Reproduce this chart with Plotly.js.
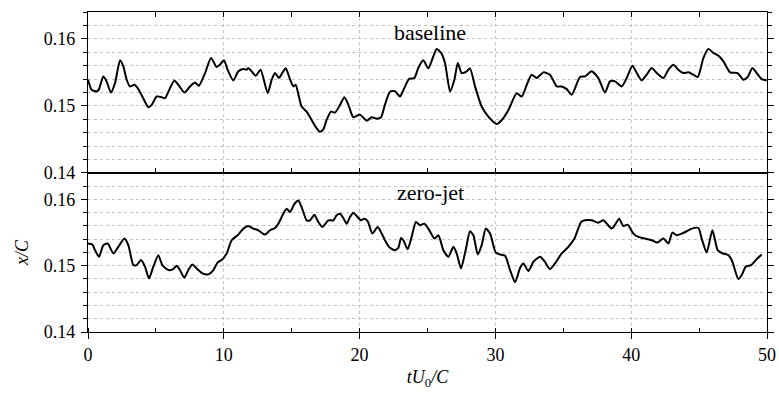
<!DOCTYPE html>
<html>
<head>
<meta charset="utf-8">
<script src="https://cdn.plot.ly/plotly-3.0.1.min.js"></script>
<style>html,body{margin:0;padding:0;background:#fff;}#chart{width:779px;height:393px;}</style>
</head>
<body>
<div id="chart"></div>
<script>
// baseline case (top panel)
const tBase = [0.0,0.27,0.64,0.81,1.13,1.37,1.69,1.99,2.36,2.6,2.85,3.09,3.41,3.66,4.0,4.44,4.69,5.06,5.42,5.67,6.04,6.36,6.65,7.1,7.51,7.88,8.17,8.62,9.06,9.47,9.72,10.01,10.28,10.7,11.07,11.44,11.68,11.8,12.05,12.35,12.71,13.23,13.53,13.77,14.06,14.31,14.56,14.87,15.12,15.29,15.73,16.1,16.47,16.84,17.08,17.33,17.57,17.89,18.19,18.56,18.88,19.17,19.54,20.03,20.52,20.89,21.26,21.58,21.87,22.24,22.61,22.97,23.29,23.64,24.03,24.32,24.69,25.06,25.43,25.68,26.0,26.29,26.66,26.98,27.23,27.52,27.89,28.13,28.5,28.99,29.48,30.1,30.47,30.96,31.57,31.94,32.31,32.67,33.04,33.53,34.02,34.52,34.88,35.25,35.62,36.23,36.6,37.09,37.58,38.07,38.44,38.81,39.3,39.67,40.09,40.41,40.77,41.14,41.51,41.88,42.37,42.74,43.11,43.47,43.84,44.21,44.58,44.9,45.32,45.68,46.05,46.47,46.79,47.28,47.84,48.26,48.58,48.92,49.24,49.61,49.98];
const xBase = [0.1539,0.1524,0.15215,0.1525,0.1544,0.15365,0.152,0.1534,0.1568,0.1559,0.1539,0.1529,0.15315,0.15265,0.1514,0.1498,0.15015,0.1514,0.1513,0.15115,0.15265,0.1538,0.15315,0.152,0.1529,0.1535,0.153,0.1549,0.15715,0.1558,0.15615,0.1568,0.1554,0.1538,0.15515,0.1555,0.1554,0.15565,0.15515,0.1545,0.1554,0.1519,0.1539,0.1549,0.15415,0.1549,0.1556,0.154,0.1529,0.15315,0.1499,0.14915,0.1479,0.14665,0.14615,0.1465,0.1479,0.14915,0.149,0.15015,0.1513,0.1502,0.1483,0.1487,0.1478,0.1483,0.1481,0.1483,0.1502,0.1521,0.1522,0.1514,0.15265,0.154,0.15415,0.15565,0.1568,0.1556,0.1574,0.1585,0.1579,0.1564,0.15215,0.1539,0.1564,0.1549,0.15515,0.1556,0.1529,0.1499,0.1484,0.1473,0.1479,0.1494,0.1519,0.1514,0.15315,0.15465,0.15415,0.155,0.15465,0.1529,0.1529,0.1525,0.15165,0.1543,0.1544,0.15515,0.15415,0.152,0.15365,0.15365,0.1529,0.15415,0.156,0.1549,0.1538,0.15465,0.15565,0.1549,0.15415,0.1554,0.15615,0.1554,0.1549,0.155,0.15465,0.1543,0.15715,0.1585,0.1579,0.1574,0.15665,0.155,0.1549,0.1539,0.1543,0.15565,0.1549,0.154,0.1538];

// zero-jet case (bottom panel)
const tZero = [0.0,0.32,0.52,0.81,1.13,1.45,1.87,2.23,2.68,2.97,3.34,3.58,3.9,4.2,4.49,4.81,5.18,5.47,5.92,6.28,6.53,6.77,7.09,7.39,7.68,8.0,8.42,8.86,9.23,9.55,9.84,10.21,10.58,11.07,11.44,11.81,12.17,12.54,13.03,13.4,13.77,14.02,14.38,14.63,14.88,15.2,15.49,15.73,16.1,16.35,16.67,16.96,17.26,17.7,18.07,18.31,18.56,18.8,19.05,19.29,19.54,19.79,20.1,20.35,20.6,20.94,21.33,21.63,21.87,22.16,22.56,22.85,23.05,23.22,23.54,23.83,24.15,24.45,24.77,25.06,25.51,25.8,26.17,26.54,26.91,27.15,27.47,27.81,28.13,28.38,28.7,28.99,29.29,29.61,30.02,30.34,30.71,31.08,31.45,31.82,32.06,32.43,32.8,33.29,33.61,34.02,34.39,34.88,35.37,35.82,36.31,36.6,37.09,37.58,37.95,38.2,38.57,38.86,39.11,39.42,39.74,40.16,40.53,41.02,41.51,41.95,42.37,42.74,43.03,43.35,43.72,44.09,44.46,44.95,45.19,45.56,45.98,46.37,46.74,47.16,47.45,47.89,48.14,48.43,48.83,49.24,49.61];
const xZero = [0.15335,0.1532,0.15235,0.15135,0.1531,0.15335,0.15185,0.15285,0.1541,0.1531,0.1501,0.1501,0.15085,0.14985,0.1481,0.14985,0.1516,0.1501,0.14935,0.1495,0.15,0.14935,0.1482,0.14935,0.1502,0.1496,0.14885,0.1487,0.14935,0.1505,0.15085,0.15185,0.15385,0.1547,0.1556,0.156,0.1556,0.15535,0.1547,0.15535,0.1557,0.15635,0.15785,0.1586,0.1581,0.15935,0.15985,0.15885,0.15685,0.15685,0.1577,0.1566,0.15585,0.15685,0.15685,0.1576,0.15785,0.1572,0.15635,0.15735,0.158,0.1575,0.15685,0.1571,0.1567,0.15485,0.15585,0.15485,0.15385,0.15285,0.15235,0.1527,0.1542,0.15385,0.1525,0.15435,0.1566,0.1561,0.15635,0.1556,0.1541,0.1546,0.15235,0.15135,0.15285,0.15185,0.1496,0.15235,0.1552,0.1546,0.1517,0.1531,0.1556,0.15485,0.152,0.1517,0.1515,0.14935,0.1475,0.1497,0.15035,0.1492,0.1506,0.15135,0.1507,0.1495,0.15035,0.15185,0.15285,0.1541,0.1566,0.15685,0.15685,0.1565,0.15685,0.15635,0.1556,0.15635,0.1571,0.156,0.1562,0.15485,0.15435,0.1541,0.15385,0.1535,0.1541,0.15335,0.155,0.1546,0.15485,0.1552,0.1556,0.1557,0.1541,0.152,0.15535,0.15235,0.15185,0.1516,0.1506,0.148,0.1486,0.14985,0.1501,0.151,0.1517];

const panelLabels = ['baseline', 'zero-jet'];
const xTickVals = [0, 10, 20, 30, 40, 50];

const FONT = 'Liberation Serif';
const lineStyle = {color: '#000', width: 2, shape: 'spline', smoothing: 0.6};

const traces = [
  {x: tBase, y: xBase, xaxis: 'x2', yaxis: 'y2', mode: 'lines', line: lineStyle, hoverinfo: 'skip', showlegend: false},
  {x: tZero, y: xZero, xaxis: 'x', yaxis: 'y', mode: 'lines', line: lineStyle, hoverinfo: 'skip', showlegend: false}
];

const GRIDC = '#c4c4c4';
const gridStyle = {showgrid: true, gridcolor: GRIDC, griddash: 'dot', gridwidth: 1};

function yAx(domain) {
  return Object.assign({
    domain: domain, range: [0.14, 0.164], tick0: 0.14, dtick: 0.01, tickformat: '.2f',
    ticks: 'outside', ticklen: 6, tickcolor: '#000', tickwidth: 1,
    showline: true, linecolor: '#000', linewidth: 1.2, mirror: 'ticks', zeroline: false,
    ticklabelstandoff: 2,
    minor: {dtick: 0.002, tick0: 0.14, ticks: 'outside', ticklen: 4, tickcolor: '#000', showgrid: true, gridcolor: GRIDC, griddash: 'dot', gridwidth: 1},
    tickfont: {family: FONT, size: 18, color: '#000'}
  }, gridStyle);
}

const layout = {
  width: 779, height: 393,
  margin: {l: 88, r: 12, t: 12, b: 61},
  paper_bgcolor: '#fff', plot_bgcolor: '#fff',
  font: {family: FONT, color: '#000'},
  xaxis: Object.assign({
    anchor: 'y', range: [0, 50], tickvals: xTickVals, ticks: 'outside', ticklen: 6, tickcolor: '#000',
    showline: true, linecolor: '#000', linewidth: 1.2, mirror: true, zeroline: false,
    minor: {dtick: 5, tick0: 0, ticks: 'inside', ticklen: 4, tickcolor: '#000', showgrid: false},
    tickfont: {family: FONT, size: 18, color: '#000'},
    title: {text: '<i>tU</i><sub>0</sub><i>/C</i>', font: {family: FONT, size: 18, color: '#000'}, standoff: 6}
  }, gridStyle),
  xaxis2: Object.assign({
    anchor: 'y2', matches: 'x', range: [0, 50], tickvals: xTickVals, ticks: 'inside', ticklen: 5, tickcolor: '#000',
    showticklabels: false, showline: true, linecolor: '#000', linewidth: 1.2, mirror: 'ticks', zeroline: false,
    minor: {dtick: 5, tick0: 0, ticks: 'inside', ticklen: 5, tickcolor: '#000', showgrid: false}
  }, gridStyle),
  yaxis: Object.assign(yAx([0, 0.497]), {
    title: {text: '<i>x/C</i>', font: {family: FONT, size: 18, color: '#000'}, standoff: 10}
  }),
  yaxis2: yAx([0.497, 1]),
  annotations: [
    {text: panelLabels[0], xref: 'paper', yref: 'paper', x: 0.504, y: 0.9375, xanchor: 'center', yanchor: 'middle', showarrow: false, font: {family: FONT, size: 22, color: '#000'}},
    {text: panelLabels[1], xref: 'paper', yref: 'paper', x: 0.504, y: 0.4375, xanchor: 'center', yanchor: 'middle', showarrow: false, font: {family: FONT, size: 22, color: '#000'}}
  ]
};

Plotly.newPlot('chart', traces, layout, {displayModeBar: false, staticPlot: true});
</script>
</body>
</html>
